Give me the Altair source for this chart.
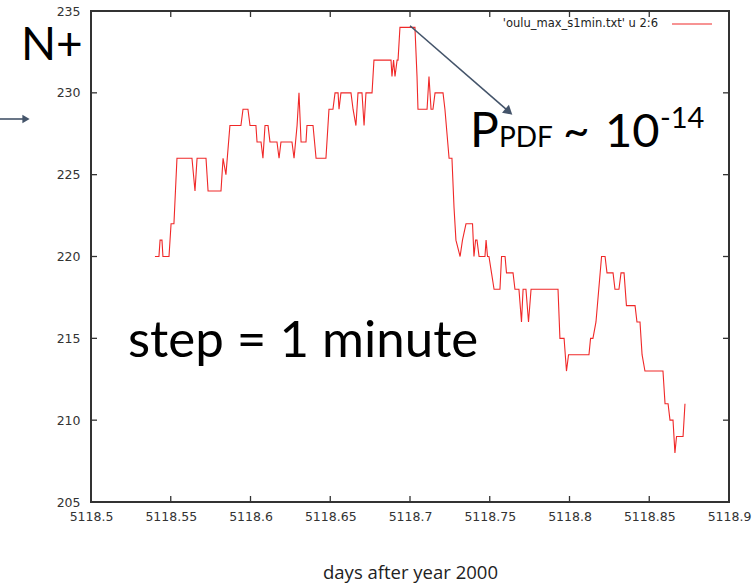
import altair as alt
import pandas as pd

# --- data (days after year 2000, neutron monitor counts) ---
days = [
    5118.5401, 5118.5426, 5118.5433, 5118.5445, 5118.5451, 5118.5489, 5118.5502, 5118.5520,
    5118.5539, 5118.5633, 5118.5652, 5118.5665, 5118.5721, 5118.5734, 5118.5815, 5118.5828,
    5118.5846, 5118.5871, 5118.5940, 5118.5953, 5118.5984, 5118.5997, 5118.6034, 5118.6041,
    5118.6066, 5118.6078, 5118.6091, 5118.6110, 5118.6122, 5118.6166, 5118.6179, 5118.6191,
    5118.6260, 5118.6273, 5118.6292, 5118.6304, 5118.6317, 5118.6348, 5118.6354, 5118.6392,
    5118.6411, 5118.6473, 5118.6492, 5118.6517, 5118.6530, 5118.6549, 5118.6555, 5118.6567,
    5118.6630, 5118.6643, 5118.6661, 5118.6674, 5118.6699, 5118.6712, 5118.6724, 5118.6762,
    5118.6774, 5118.6881, 5118.6887, 5118.6897, 5118.6906, 5118.6919, 5118.6925, 5118.6937,
    5118.7031, 5118.7044, 5118.7050, 5118.7107, 5118.7119, 5118.7132, 5118.7144, 5118.7157,
    5118.7207, 5118.7219, 5118.7245, 5118.7263, 5118.7276, 5118.7288, 5118.7314, 5118.7329,
    5118.7351, 5118.7392, 5118.7401, 5118.7411, 5118.7420, 5118.7433, 5118.7470, 5118.7477,
    5118.7486, 5118.7495, 5118.7511, 5118.7527, 5118.7564, 5118.7574, 5118.7596, 5118.7605,
    5118.7646, 5118.7658, 5118.7683, 5118.7699, 5118.7709, 5118.7727, 5118.7743, 5118.7759,
    5118.7928, 5118.7940, 5118.7966, 5118.7981, 5118.7994, 5118.8122, 5118.8132, 5118.8147,
    5118.8166, 5118.8201, 5118.8223, 5118.8235, 5118.8273, 5118.8285, 5118.8310, 5118.8323,
    5118.8342, 5118.8357, 5118.8411, 5118.8423, 5118.8442, 5118.8455, 5118.8473, 5118.8586,
    5118.8599, 5118.8618, 5118.8630, 5118.8649, 5118.8661, 5118.8671, 5118.8712, 5118.8724,
]
counts = [
    220, 220, 221, 221, 220, 220, 222, 222,
    226, 226, 224, 226, 226, 224, 224, 226,
    225, 228, 228, 229, 229, 228, 228, 227,
    227, 226, 228, 228, 227, 227, 226, 227,
    227, 226, 228, 230, 227, 227, 228, 228,
    226, 226, 229, 229, 230, 230, 229, 230,
    230, 229, 228, 230, 230, 228, 230, 230,
    232, 232, 231, 232, 231, 232, 232, 234,
    234, 231, 229, 229, 231, 229, 229, 230,
    230, 229, 226, 226, 223, 221, 220, 221,
    222, 222, 220, 221, 221, 220, 220, 221,
    220, 220, 219, 218, 218, 220, 220, 219,
    219, 218, 218, 216, 218, 218, 216, 218,
    218, 215, 215, 213, 214, 214, 215, 215,
    216, 220, 220, 219, 219, 218, 218, 219,
    219, 217, 217, 216, 216, 214, 213, 213,
    211, 211, 210, 210, 208, 209, 209, 211,
]
x_ticks = [5118.5, 5118.55, 5118.6, 5118.65, 5118.7, 5118.75, 5118.8, 5118.85, 5118.9]
y_ticks = [205, 210, 215, 220, 225, 230, 235]
x_inner = x_ticks[1:-1]
y_inner = y_ticks[1:-1]

legend_label = "'oulu_max_s1min.txt' u 2:6"
x_title = "days after year 2000"

# arrow from the peak towards the probability label (data coordinates)
arrow_x = [5118.7]
arrow_y = [234.1]
arrow_x2 = [5118.762]
arrow_y2 = [228.85]

df = pd.DataFrame({"day": days, "count": counts})
one = pd.DataFrame({"k": [0]})
arrow_df = pd.DataFrame({"x": arrow_x, "y": arrow_y, "x2": arrow_x2, "y2": arrow_y2})
xt_df = pd.DataFrame({"v": x_inner})
yt_df = pd.DataFrame({"v": y_inner})

W, H = 638, 491
xs = alt.Scale(domain=[5118.5, 5118.9], nice=False, zero=False)
ys = alt.Scale(domain=[205, 235], nice=False, zero=False)

TICK_FONT = "DejaVu Sans"
BIG_FONT = "Lato"
RED = "#f02828"
ARROW = "#44546a"
AX = "#333333"
TL = 6  # inward tick length

line = alt.Chart(df).mark_line(color=RED, strokeWidth=1.1).encode(
    x=alt.X("day:Q", scale=xs, axis=alt.Axis(
        values=x_ticks, format=".2~f", ticks=False, domain=False, grid=False,
        labelFlush=False, labelOverlap=False, labelPadding=8, labelFont=TICK_FONT,
        labelFontSize=12.5, labelColor=AX, title=x_title, titleFont="Open Sans",
        titleFontSize=18.5, titleFontWeight="normal", titleColor="#222222", titlePadding=41)),
    y=alt.Y("count:Q", scale=ys, axis=alt.Axis(
        values=y_ticks, ticks=False, domain=False, grid=False, labelFlush=False,
        labelPadding=11, labelFont=TICK_FONT, labelFontSize=12.5, labelColor=AX, title=None)),
)

# inward ticks on all four sides
tick_bottom = alt.Chart(xt_df).mark_rule(color=AX, strokeWidth=1.3).encode(
    x=alt.X("v:Q", scale=xs), y=alt.value(H), y2=alt.value(H - TL))
tick_top = alt.Chart(xt_df).mark_rule(color=AX, strokeWidth=1.3).encode(
    x=alt.X("v:Q", scale=xs), y=alt.value(0), y2=alt.value(TL))
tick_left = alt.Chart(yt_df).mark_rule(color=AX, strokeWidth=1.3).encode(
    y=alt.Y("v:Q", scale=ys), x=alt.value(0), x2=alt.value(TL))
tick_right = alt.Chart(yt_df).mark_rule(color=AX, strokeWidth=1.3).encode(
    y=alt.Y("v:Q", scale=ys), x=alt.value(W - TL), x2=alt.value(W))

# diagonal arrow
arrow_line = alt.Chart(arrow_df).mark_rule(color=ARROW, strokeWidth=1.6).encode(
    x=alt.X("x:Q", scale=xs), y=alt.Y("y:Q", scale=ys), x2="x2:Q", y2="y2:Q")
arrow_head = alt.Chart(arrow_df).mark_point(
    shape="triangle-right", filled=True, color=ARROW, opacity=1, size=110, angle=41
).encode(x=alt.X("x2:Q", scale=xs), y=alt.Y("y2:Q", scale=ys))

# left arrow (outside the plot)
left_arrow = alt.Chart(one).mark_rule(color=ARROW, strokeWidth=1.6).encode(
    x=alt.value(-92), x2=alt.value(-66), y=alt.value(108))
left_head = alt.Chart(one).mark_point(
    shape="triangle-right", filled=True, color=ARROW, opacity=1, size=70
).encode(x=alt.value(-65), y=alt.value(108))

def txt(text, x, y, size, font=BIG_FONT, align="left", baseline="alphabetic", color="black"):
    return alt.Chart(one).mark_text(
        text=text, font=font, fontSize=size, align=align, baseline=baseline, color=color
    ).encode(x=alt.value(x), y=alt.value(y))

n_plus = txt("N+", -70, 49, 46)
step = txt("step = 1 minute", 37, 346, 51)
p_big = txt("P", 379, 136, 48)
p_sub = txt("PDF", 408, 136, 28)
tilde = txt("~", 472, 136, 46)
ten = txt("10", 514, 136, 47)
exp = txt("-14", 569, 117, 29)

legend_text = txt(legend_label, 567, 13, 11.5, font=TICK_FONT, align="right",
                  baseline="middle", color="#222222")
legend_line = alt.Chart(one).mark_rule(color=RED, strokeWidth=1.2).encode(
    x=alt.value(581), x2=alt.value(621), y=alt.value(13))

chart = alt.layer(
    line, tick_bottom, tick_top, tick_left, tick_right, arrow_line, arrow_head,
    left_arrow, left_head, n_plus, step, p_big, p_sub, tilde, ten, exp,
    legend_text, legend_line,
).properties(
    width=W, height=H,
    autosize=alt.AutoSizeParams(type="none"),
    padding={"left": 91, "top": 11, "right": 26, "bottom": 81},
    background="white",
).configure_view(stroke=AX, strokeWidth=2)

chart.save("out.html", embed_options={"renderer": "svg", "actions": False})
